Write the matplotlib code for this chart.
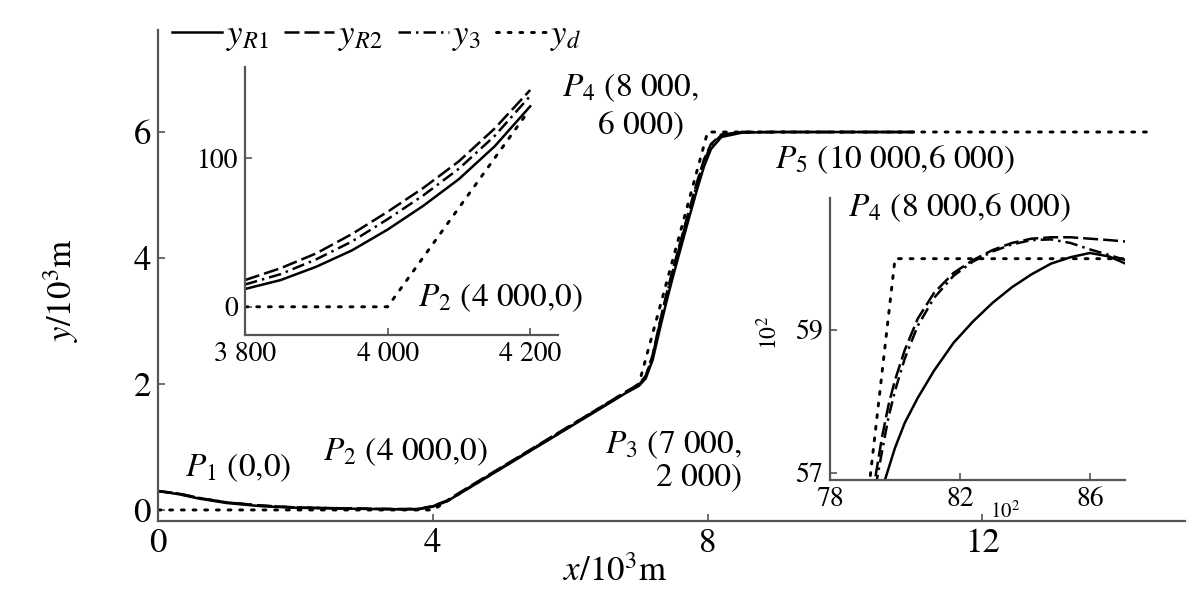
import matplotlib
matplotlib.use('Agg')
import matplotlib.pyplot as plt

plt.rcParams['font.family'] = 'STIXGeneral'
plt.rcParams['mathtext.fontset'] = 'stix'

# main chart, x and y in 10^3 m
main_x = [0.0, 0.3, 0.6, 1.0, 1.5, 2.0, 2.5, 3.0, 3.5, 3.8, 4.0, 4.2, 4.5, 5.0,
          5.5, 6.0, 6.5, 6.8, 7.0, 7.1, 7.2, 7.3, 7.4, 7.5, 7.7, 7.85, 7.95,
          8.05, 8.2, 8.5, 9.0, 10.0, 11.0]
yR1_main = [0.30, 0.25, 0.18, 0.11, 0.06, 0.035, 0.025, 0.017, 0.01, 0.012,
            0.052, 0.135, 0.33, 0.66, 0.99, 1.32, 1.65, 1.85, 1.97, 2.09, 2.38,
            2.85, 3.30, 3.72, 4.52, 5.10, 5.46, 5.73, 5.92, 5.99, 6.00, 6.00, 6.00]
yR2_main = [0.30, 0.26, 0.19, 0.12, 0.07, 0.04, 0.03, 0.02, 0.015, 0.018,
            0.065, 0.146, 0.35, 0.68, 1.01, 1.34, 1.67, 1.87, 2.00, 2.13, 2.46,
            2.96, 3.42, 3.84, 4.64, 5.22, 5.57, 5.81, 5.96, 6.00, 6.00, 6.00, 6.00]
y3_main = [0.30, 0.26, 0.19, 0.12, 0.07, 0.04, 0.03, 0.02, 0.013, 0.015,
           0.059, 0.142, 0.34, 0.67, 1.00, 1.33, 1.66, 1.86, 1.99, 2.12, 2.44,
           2.94, 3.40, 3.81, 4.61, 5.19, 5.54, 5.79, 5.95, 6.00, 6.00, 6.00, 6.00]
yd_x = [0, 4, 7, 8, 14.45]
yd_y = [0, 0, 2, 6, 6]

# inset near P2, in m
in1_x = [3800, 3850, 3900, 3950, 4000, 4050, 4100, 4150, 4200]
yR1_in1 = [12, 18, 27, 38, 52, 68, 86, 108, 135]
yR2_in1 = [18, 26, 36, 49, 64, 80, 98, 120, 146]
y3_in1 = [15, 22, 32, 44, 59, 75, 93, 115, 142]
yd_in1_x = [3800, 4000, 4195]
yd_in1_y = [0, 0, 130]

# inset near P4, in 10^2 m
in2_x = [79.4, 79.6, 79.8, 80.0, 80.3, 80.7, 81.2, 81.8, 82.4, 83.0, 83.6,
         84.2, 84.8, 85.4, 86.0, 86.6, 87.1]
yR1_in2 = [56.5, 56.77, 57.06, 57.35, 57.7, 58.05, 58.43, 58.82, 59.12, 59.38,
           59.6, 59.78, 59.93, 60.02, 60.08, 60.03, 59.93]
yR2_in2 = [56.95, 57.5, 57.95, 58.3, 58.72, 59.16, 59.52, 59.8, 59.98, 60.12,
           60.22, 60.28, 60.30, 60.30, 60.28, 60.26, 60.24]
y3_in2 = [56.8, 57.3, 57.78, 58.15, 58.6, 59.06, 59.45, 59.76, 59.96, 60.1,
          60.2, 60.26, 60.27, 60.22, 60.13, 60.05, 59.98]
yd_in2_x = [79.2, 80.0, 87.1]
yd_in2_y = [56.8, 60.0, 60.0]

labels = [r'$y_{R1}$', r'$y_{R2}$', r'$y_3$', r'$y_d$']
styles = ['-', (0, (6, 2)), (0, (5, 2, 1, 2)), (0, (1, 3))]
spine_col = '#555555'


def style_axes(ax, size, ticklen):
    for side in ['top', 'right']:
        ax.spines[side].set_visible(False)
    for side in ['left', 'bottom']:
        ax.spines[side].set_color(spine_col)
        ax.spines[side].set_linewidth(1.6)
    ax.tick_params(direction='in', length=ticklen, width=1.2, color=spine_col,
                   labelsize=size, pad=5)


def draw_set(ax, x, ys, dx, dy, lw):
    for y, ls, lab in zip(ys, styles[:3], labels[:3]):
        ax.plot(x, y, color='black', lw=lw, linestyle=ls, label=lab)
    ax.plot(dx, dy, color='black', lw=lw + 0.3, linestyle=styles[3],
            dash_capstyle='round', label=labels[3])


fig = plt.figure(figsize=(12, 6.13), dpi=100)
ax = fig.add_axes([0.1317, 0.1501, 0.8558, 0.801])
draw_set(ax, main_x, [yR1_main, yR2_main, y3_main], yd_x, yd_y, 1.8)
ax.set_xlim(0, 14.95)
ax.set_ylim(-0.175, 7.62)
ax.set_xticks([0, 4, 8, 12])
ax.set_yticks([0, 2, 4, 6])
style_axes(ax, 25, 5)
ax.set_xlabel(r'$x$/10$^3$m', fontsize=25, va='center')
ax.xaxis.set_label_coords(0.445, -0.106)
ax.set_ylabel(r'$y$/10$^3$m', fontsize=25, va='center')
ax.yaxis.set_label_coords(-0.094, 0.47)

ax.legend(ncol=4, loc='upper left', bbox_to_anchor=(172 / 1200, 1 - 20 / 613),
          bbox_transform=fig.transFigure, frameon=False, fontsize=25,
          handlelength=1.45, handletextpad=0.1, columnspacing=0.45,
          borderaxespad=0, borderpad=0)

txt = dict(fontsize=24, va='center', ha='left')
ax.text(0.39, 0.67, r'$P_1$ (0,0)', **txt)
ax.text(2.40, 0.92, r'$P_2$ (4 000,0)', **txt)
ax.text(8.50, 0.79, '$P_3$ (7 000,\n2 000)', fontsize=24, va='center',
        ha='right', multialignment='right', linespacing=1.1)
ax.text(5.88, 6.70, r'$P_4$ (8 000,', **txt)
ax.text(6.40, 6.08, '6 000)', **txt)
ax.text(8.98, 5.56, r'$P_5$ (10 000,6 000)', **txt)

# inset around P2
ax1 = fig.add_axes([0.2042, 0.4535, 0.2608, 0.4377], facecolor='none')
draw_set(ax1, in1_x, [yR1_in1, yR2_in1, y3_in1], yd_in1_x, yd_in1_y, 1.8)
ax1.set_xlim(3800, 4239)
ax1.set_ylim(-19, 161.7)
ax1.set_xticks([3800, 4000, 4200])
ax1.set_xticklabels(['3 800', '4 000', '4 200'])
ax1.set_yticks([0, 100])
style_axes(ax1, 20, 5)
ax1.text(4043, 5.9, r'$P_2$ (4 000,0)', **txt)

# inset around P4
ax2 = fig.add_axes([0.6917, 0.2170, 0.2458, 0.4600], facecolor='none')
draw_set(ax2, in2_x, [yR1_in2, yR2_in2, y3_in2], yd_in2_x, yd_in2_y, 1.8)
ax2.set_xlim(78, 87.08)
ax2.set_ylim(56.9, 60.85)
ax2.set_xticks([78, 82, 86])
ax2.set_yticks([57, 59])
style_axes(ax2, 20, 5)
ax2.text(78.55, 60.71, r'$P_4$ (8 000,6 000)', clip_on=False, **txt)
ax2.text(-0.205, 0.52, r'10$^2$', transform=ax2.transAxes, rotation=90,
         fontsize=17, ha='center', va='center')
ax2.text(0.593, -0.113, r'10$^2$', transform=ax2.transAxes,
         fontsize=15, ha='center', va='center')

fig.savefig('out.png', dpi=100)
